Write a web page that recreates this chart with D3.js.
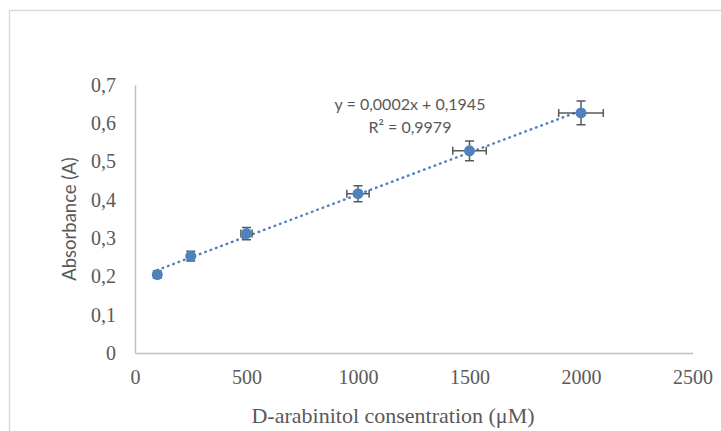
<!DOCTYPE html>
<html lang="en">
<head>
<meta charset="UTF-8">
<title>Calibration</title>
<script src="https://d3js.org/d3.v7.min.js"></script>
<style>
	body{margin:0;background:#fff}
	svg{display:block}
</style>
</head>
<body>
<svg id="chart" width="721" height="431"></svg>
<script>
// data
var conc = [100, 250, 500, 1000, 1500, 2000];
var absorb = [0.205, 0.253, 0.312, 0.416, 0.528, 0.627];
var absErr = [0.010, 0.013, 0.016, 0.021, 0.026, 0.031];
var concErr = [5, 12.5, 25, 50, 75, 100];
var xTicks = [0, 500, 1000, 1500, 2000, 2500];
var yTicks = [0, 0.1, 0.2, 0.3, 0.4, 0.5, 0.6, 0.7];
var eqText = ["y = 0,0002x + 0,1945", "R\u00b2 = 0,9979"];

var blue = "#4f81bd", grey = "#595959", axisCol = "#bfbfbf";
var serif = "'Liberation Serif', 'Times New Roman', serif";
var sans = "Lato, 'Noto Sans', sans-serif";

var svg = d3.select("#chart");

// chart frame (runs off the right / bottom of the picture)
svg.append("rect").attr("x", 9.5).attr("y", 10.5).attr("width", 800).attr("height", 500)
	.attr("fill", "none").attr("stroke", "#d9d9d9").attr("stroke-width", 1.5);

var x = d3.scaleLinear().domain([0, 2500]).range([135, 692.5]);
var y = d3.scaleLinear().domain([0, 0.7]).range([353, 85]);

// axes
var gx = svg.append("g").attr("transform", "translate(0," + y(0) + ")")
	.call(d3.axisBottom(x).tickValues(xTicks).tickSize(0).tickPadding(17).tickFormat(d3.format("d")));
var gy = svg.append("g").attr("transform", "translate(" + x(0) + ",0)")
	.call(d3.axisLeft(y).tickValues(yTicks).tickSize(0).tickPadding(19)
		.tickFormat(function (d) { return d === 0 ? "0" : d3.format(".1f")(d).replace(".", ","); }));
[gx, gy].forEach(function (g) {
	g.select(".domain").attr("stroke", axisCol).attr("stroke-width", 1.5);
	g.selectAll("text").attr("fill", grey).style("font-family", serif).style("font-size", "20px");
});
gx.selectAll("text").attr("dy", "0.71em");

// axis titles
svg.append("text").attr("x", 393).attr("y", 423).attr("text-anchor", "middle")
	.attr("fill", grey).style("font-family", serif).style("font-size", "22px")
	.text("D-arabinitol consentration (\u03bcM)");
svg.append("text").attr("transform", "translate(76,219) rotate(-90)").attr("text-anchor", "middle")
	.attr("fill", grey).style("font-family", sans).style("font-size", "18.5px")
	.text("Absorbance (A)");

// linear trendline (least squares on the points)
var pts = conc.map(function (c, i) { return {x: c, y: absorb[i], ex: concErr[i], ey: absErr[i]}; });
var mx = d3.mean(conc), my = d3.mean(absorb);
var slope = d3.sum(pts, function (p) { return (p.x - mx) * (p.y - my); }) /
	d3.sum(pts, function (p) { return (p.x - mx) * (p.x - mx); });
var icpt = my - slope * mx;
var ext = d3.extent(conc);
svg.append("line")
	.attr("x1", x(ext[0])).attr("y1", y(icpt + slope * ext[0]))
	.attr("x2", x(ext[1])).attr("y2", y(icpt + slope * ext[1]))
	.attr("stroke", blue).attr("stroke-width", 2.5)
	.attr("stroke-linecap", "round").attr("stroke-dasharray", "0.5 5.2");

// error bars
var eb = svg.append("g").attr("stroke", grey).attr("stroke-width", 1.5).attr("fill", "none");
pts.forEach(function (p) {
	var cx = x(p.x), cy = y(p.y);
	var x0 = x(p.x - p.ex), x1 = x(p.x + p.ex), y0 = y(p.y - p.ey), y1 = y(p.y + p.ey);
	eb.append("path").attr("d",
		"M" + x0 + "," + cy + "H" + x1 +
		"M" + x0 + "," + (cy - 4) + "V" + (cy + 4) +
		"M" + x1 + "," + (cy - 4) + "V" + (cy + 4) +
		"M" + cx + "," + y0 + "V" + y1 +
		"M" + (cx - 4.5) + "," + y0 + "H" + (cx + 4.5) +
		"M" + (cx - 4.5) + "," + y1 + "H" + (cx + 4.5));
});

// markers
svg.append("g").selectAll("circle").data(pts).enter().append("circle")
	.attr("cx", function (d) { return x(d.x); })
	.attr("cy", function (d) { return y(d.y); })
	.attr("r", 5.5).attr("fill", blue);

// equation label
svg.append("g").selectAll("text").data(eqText).enter().append("text")
	.attr("x", 410).attr("y", function (d, i) { return 110 + i * 23; })
	.attr("text-anchor", "middle").attr("fill", grey)
	.style("font-family", sans).style("font-size", "16px")
	.text(function (d) { return d; });
</script>
</body>
</html>
